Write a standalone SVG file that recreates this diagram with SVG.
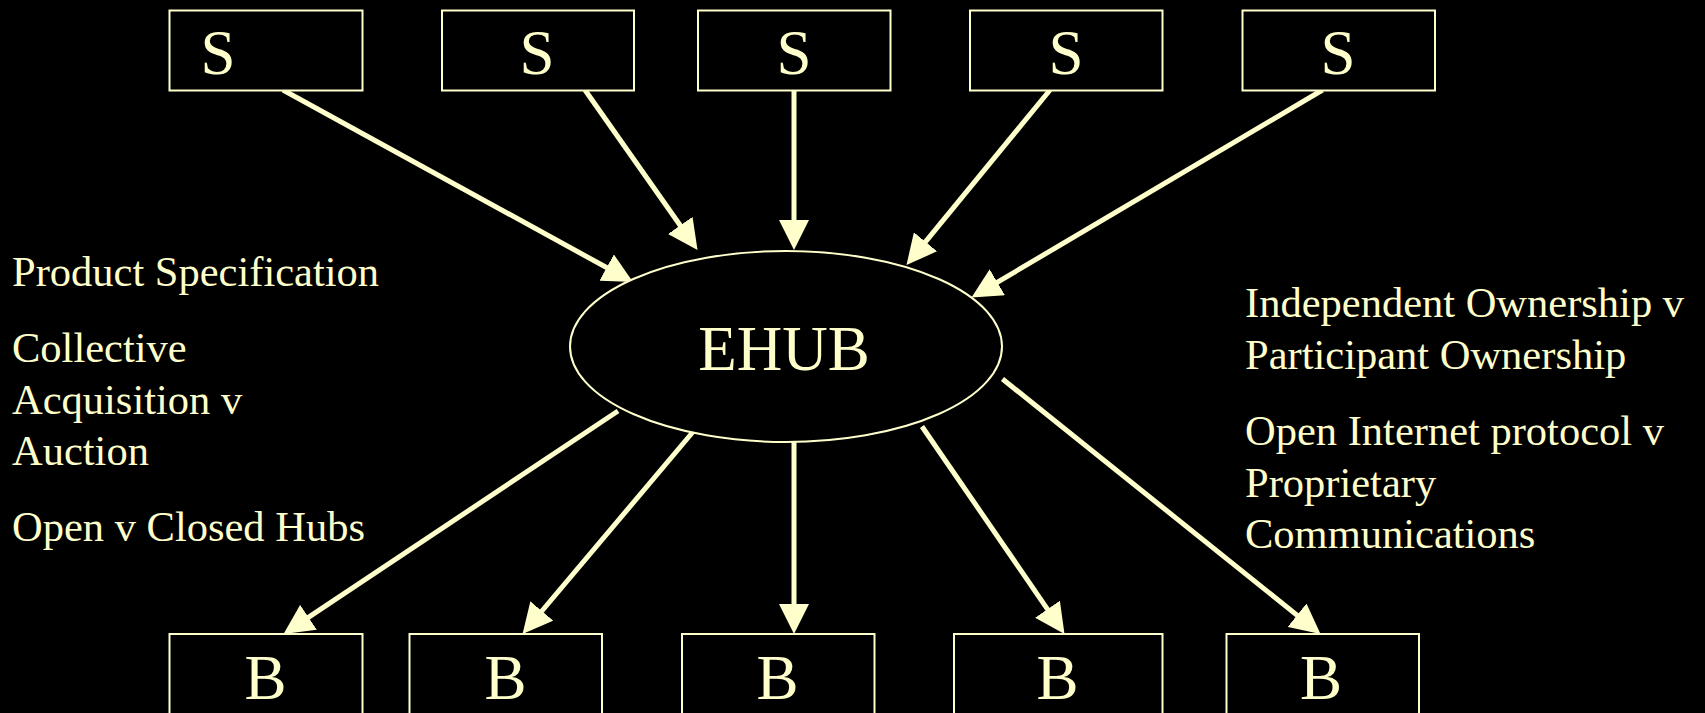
<svg xmlns="http://www.w3.org/2000/svg" width="1705" height="713" viewBox="0 0 1705 713">
<style>
.box{fill:#000;stroke:#FFFFCC;stroke-width:2}
.big{font-family:"Liberation Serif","Times New Roman",serif;font-size:63px;fill:#FFFFCC;text-anchor:middle}
.txt{font-family:"Liberation Serif","Times New Roman",serif;font-size:42.5px;fill:#FFFFCC}
.arr{stroke:#FFFFCC;stroke-width:5;fill:none;marker-end:url(#ah)}
</style>
<defs>
<marker id="ah" markerUnits="userSpaceOnUse" markerWidth="30" markerHeight="30" refX="15" refY="15" orient="auto" viewBox="0 0 30 30">
<path d="M0,0 L30,15 L0,30 z" fill="#FFFFCC"/>
</marker>
</defs>
<rect width="1705" height="713" fill="#000"/>
<g id="connectors">
<line class="arr" x1="283" y1="90" x2="619.8" y2="274.8"/>
<line class="arr" x1="585" y1="90" x2="688.9" y2="237.7"/>
<line class="arr" x1="794" y1="90" x2="794" y2="235"/>
<line class="arr" x1="1050" y1="90" x2="916" y2="253.4"/>
<line class="arr" x1="1322.5" y1="90" x2="984.4" y2="289.9"/>
<line class="arr" x1="618" y1="411" x2="296" y2="625.7"/>
<line class="arr" x1="697.5" y1="426.5" x2="532.2" y2="622.5"/>
<line class="arr" x1="794" y1="442" x2="794" y2="619"/>
<line class="arr" x1="922" y1="426.5" x2="1056" y2="621.6"/>
<line class="arr" x1="1002.5" y1="379" x2="1308.8" y2="624.6"/>
</g>
<g id="s1"><rect class="box" x="169.5" y="10.5" width="193" height="80"/><text class="big" x="218" y="74">S</text></g>
<g id="s2"><rect class="box" x="442" y="10.5" width="192" height="80"/><text class="big" x="537" y="74">S</text></g>
<g id="s3"><rect class="box" x="698" y="10.5" width="192.5" height="80"/><text class="big" x="794" y="74">S</text></g>
<g id="s4"><rect class="box" x="970" y="10.5" width="192.5" height="80"/><text class="big" x="1066" y="74">S</text></g>
<g id="s5"><rect class="box" x="1242.5" y="10.5" width="192.5" height="80"/><text class="big" x="1338" y="74">S</text></g>
<g id="ehub"><ellipse cx="786" cy="346.5" rx="216" ry="95.5" fill="#000" stroke="#FFFFCC" stroke-width="2"/><text class="big" x="784" y="370">EHUB</text></g>
<g id="b1"><rect class="box" x="169.5" y="634" width="193" height="82"/><text class="big" x="265.5" y="698.5">B</text></g>
<g id="b2"><rect class="box" x="409.5" y="634" width="192.5" height="82"/><text class="big" x="505.5" y="698.5">B</text></g>
<g id="b3"><rect class="box" x="682" y="634" width="192.5" height="82"/><text class="big" x="777.5" y="698.5">B</text></g>
<g id="b4"><rect class="box" x="954" y="634" width="208.5" height="82"/><text class="big" x="1057.5" y="698.5">B</text></g>
<g id="b5"><rect class="box" x="1226.5" y="634" width="192.5" height="82"/><text class="big" x="1321" y="698.5">B</text></g>
<g id="left-notes">
<text class="txt" x="12" y="286">Product Specification</text>
<text class="txt" x="12" y="362">Collective</text>
<text class="txt" x="12" y="413.5">Acquisition v</text>
<text class="txt" x="12" y="465">Auction</text>
<text class="txt" x="12" y="540.5">Open v Closed Hubs</text>
</g>
<g id="right-notes">
<text class="txt" x="1245" y="317">Independent Ownership v</text>
<text class="txt" x="1245" y="368.5">Participant Ownership</text>
<text class="txt" x="1245" y="445">Open Internet protocol v</text>
<text class="txt" x="1245" y="496.5">Proprietary</text>
<text class="txt" x="1245" y="548">Communications</text>
</g>
</svg>
